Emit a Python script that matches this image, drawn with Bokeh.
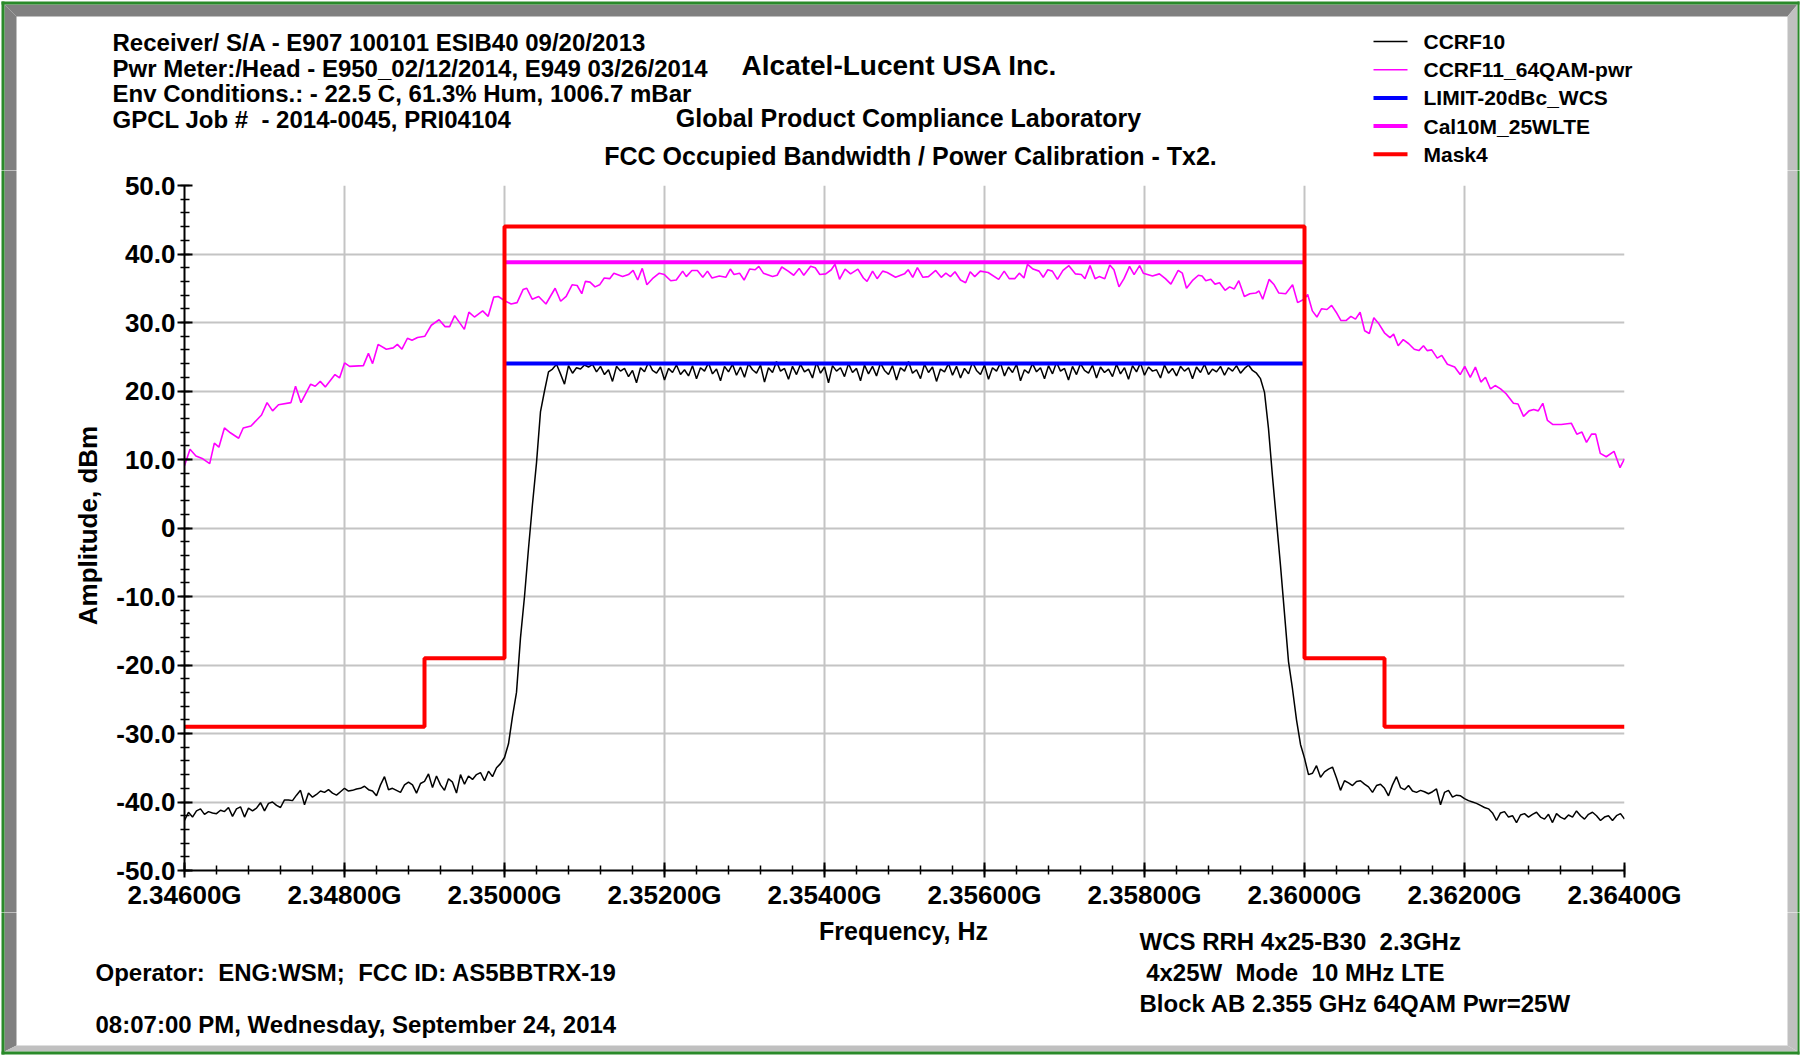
import numpy as np
from bokeh.plotting import figure
from bokeh.models import FixedTicker, Range1d
from bokeh.layouts import column, row
from bokeh.core.properties import value
from bokeh.embed import file_html
from bokeh.resources import INLINE

# ---------------- data (frequencies in MHz, amplitudes in dBm) ----------------
x_major_ticks = [2346, 2348, 2350, 2352, 2354, 2356, 2358, 2360, 2362, 2364]
x_tick_labels = ["2.34600G", "2.34800G", "2.35000G", "2.35200G", "2.35400G",
                 "2.35600G", "2.35800G", "2.36000G", "2.36200G", "2.36400G"]
y_major_ticks = [-50, -40, -30, -20, -10, 0, 10, 20, 30, 40, 50]
y_tick_labels = ["-50.0", "-40.0", "-30.0", "-20.0", "-10.0", "0",
                 "10.0", "20.0", "30.0", "40.0", "50.0"]

# CCRF10 trace: sweep from 2346.00 MHz in 0.05 MHz steps
ccrf10_start_mhz = 2346.0
ccrf10_step_mhz = 0.05
ccrf10_dbm = [
    -42.7, -41.5, -42.2, -41.3, -41.0, -41.8, -41.4, -41.6, -41.7, -41.2,
    -41.4, -40.8, -42.1, -41.0, -40.7, -42.2, -40.9, -41.3, -40.9, -40.1,
    -41.3, -40.2, -40.0, -40.5, -40.8, -39.7, -39.7, -39.8, -39.0, -38.3,
    -40.4, -38.7, -39.3, -38.9, -38.4, -38.6, -38.2, -38.7, -39.0, -38.5,
    -38.0, -38.4, -38.3, -38.1, -38.0, -37.7, -38.2, -38.4, -39.1, -37.5,
    -36.3, -38.2, -38.0, -38.3, -38.6, -37.5, -37.1, -37.5, -38.7, -37.3,
    -37.0, -35.9, -37.9, -36.2, -37.5, -38.3, -36.6, -37.1, -38.7, -36.0,
    -37.4, -36.2, -36.7, -36.0, -35.7, -36.9, -35.5, -36.3, -35.0, -34.4,
    -33.5, -31.5, -27.5, -24.0, -16.0, -10.0, -3.0, 3.5, 9.5, 17.0,
    20.0, 22.8, 23.2,
    23.9, 22.5, 21.0, 23.7, 22.6, 23.4, 23.2, 23.8, 23.5, 23.9, 22.8, 23.6, 22.4, 23.1, 21.4, 23.6, 22.9, 23.3, 22.1, 23.0,
    21.2, 23.4, 22.8, 24.2, 23.0, 22.6, 23.5, 21.6, 23.3, 22.7, 23.8, 22.4, 23.1, 22.2, 23.7, 21.8, 23.4, 22.9, 24.1, 22.5,
    23.2, 21.5, 23.6, 22.8, 23.9, 22.3, 23.5, 22.0, 24.0, 23.1, 22.6, 23.8, 21.3, 23.4, 22.7, 24.3, 22.9, 23.3, 21.7, 23.6,
    22.4, 23.9, 22.8, 23.2, 21.9, 24.2, 22.6, 23.5, 21.2, 23.7, 22.9, 23.4, 22.1, 24.0, 22.7, 23.3, 21.5, 23.8, 22.5, 23.6,
    22.2, 24.1, 23.0, 22.4, 23.7, 21.6, 23.4, 22.9, 24.3, 22.6, 23.1, 21.8, 23.9, 22.7, 23.5, 21.4, 23.2, 22.8, 24.0, 22.3,
    23.6, 21.9, 23.3, 22.5, 24.2, 23.0, 22.4, 23.8, 21.7, 23.4, 22.9, 24.1, 22.2, 23.5, 22.7, 23.9, 21.5, 23.1, 22.6, 24.0,
    22.8, 23.4, 21.8, 23.7, 22.5, 24.2, 22.9, 23.3, 21.6, 23.6, 22.4, 24.0, 23.0, 22.6, 23.8, 21.9, 23.5, 22.7, 23.2, 22.1,
    23.9, 22.5, 23.4, 21.7, 23.7, 22.8, 24.1, 22.3, 23.5, 22.9, 23.1, 21.9, 23.8, 22.6, 23.3, 22.2, 23.6, 22.9, 23.4, 21.8,
    23.5, 22.7, 23.9, 22.4, 23.2, 22.8, 23.6, 22.3, 23.4, 22.9, 23.7, 22.6, 23.3, 23.8,
    23.0, 22.6, 21.8, 19.8, 14.5, 7.5, 1.0, -5.5, -12.5, -19.5, -23.5, -28.0, -31.6, -33.6,
    -36.0, -35.8, -34.7, -36.4, -35.6, -35.2, -34.9, -36.5, -38.3, -36.9,
    -37.2, -37.6, -37.0, -36.9, -37.4, -37.8, -38.6, -37.6, -37.4, -38.0,
    -39.1, -37.5, -36.3, -37.9, -38.2, -37.6, -38.4, -38.6, -38.3, -38.5,
    -38.8, -38.5, -38.1, -40.4, -38.6, -38.3, -39.3, -39.0, -39.1, -39.5,
    -39.8, -40.0, -40.2, -40.5, -40.8, -41.0, -41.6, -42.7, -41.6, -41.4,
    -42.2, -42.0, -43.0, -41.9, -41.7, -42.2, -41.8, -41.5, -42.2, -42.5,
    -41.8, -43.0, -41.7, -42.2, -42.5, -41.9, -42.2, -41.3, -42.0, -42.5,
    -41.8, -41.5, -42.0, -42.7, -42.2, -42.0, -42.7, -42.0, -41.7, -42.5,
]

# CCRF11_64QAM-pwr trace (frequency offset from 2346 MHz, dBm)
ccrf11_offset_mhz = [
    0.000, 0.069, 0.143, 0.229, 0.315, 0.373, 0.430, 0.499, 0.573, 0.677,
    0.734, 0.831, 0.963, 1.032, 1.101, 1.175, 1.330, 1.388, 1.456, 1.577,
    1.634, 1.697, 1.760, 1.881, 1.938, 2.001, 2.064, 2.236, 2.299, 2.351,
    2.420, 2.523, 2.609, 2.661, 2.718, 2.787, 2.844, 2.913, 3.005, 3.085,
    3.182, 3.257, 3.314, 3.377, 3.498, 3.555, 3.624, 3.727, 3.796, 3.865,
    3.922, 4.014, 4.083, 4.157, 4.232, 4.278, 4.346, 4.427, 4.518, 4.633,
    4.702, 4.771, 4.845, 4.908, 4.966, 5.011, 5.069, 5.132, 5.189, 5.247,
    5.315, 5.367, 5.476, 5.550, 5.608, 5.665, 5.722, 5.780, 5.849, 5.935,
    5.998, 6.078, 6.147, 6.227, 6.273, 6.342, 6.411, 6.479, 6.537, 6.594,
    6.686, 6.766, 6.823, 6.869, 6.938, 6.995, 7.064, 7.133, 7.179, 7.236,
    7.351, 7.408, 7.466, 7.546, 7.615, 7.683, 7.741, 7.827, 7.884, 7.941,
    8.016, 8.085, 8.131, 8.188, 8.257, 8.326, 8.417, 8.486, 8.532, 8.601,
    8.658, 8.727, 8.784, 8.888, 9.000, 9.046, 9.103, 9.161, 9.230, 9.299,
    9.390, 9.459, 9.517, 9.574, 9.631, 9.700, 9.764, 9.821, 9.878, 9.947,
    10.045, 10.177, 10.246, 10.309, 10.378, 10.435, 10.493, 10.538, 10.607, 10.682,
    10.734, 10.791, 10.848, 10.912, 10.981, 11.055, 11.135, 11.210, 11.256, 11.319,
    11.382, 11.434, 11.503, 11.566, 11.618, 11.681, 11.744, 11.813, 11.870, 11.939,
    11.985, 12.100, 12.186, 12.261, 12.330, 12.421, 12.473, 12.525, 12.605, 12.674,
    12.720, 12.766, 12.829, 12.881, 12.938, 13.007, 13.064, 13.122, 13.179, 13.248,
    13.317, 13.392, 13.432, 13.478, 13.558, 13.621, 13.679, 13.765, 13.851, 13.914,
    13.994, 14.040, 14.098, 14.155, 14.212, 14.281, 14.339, 14.396, 14.454, 14.522,
    14.580, 14.637, 14.695, 14.752, 14.810, 14.867, 14.924, 14.999, 15.068, 15.114,
    15.171, 15.234, 15.303, 15.372, 15.430, 15.487, 15.533, 15.590, 15.659, 15.716,
    15.786, 15.877, 15.946, 16.003, 16.072, 16.136, 16.205, 16.262, 16.325, 16.383,
    16.451, 16.520, 16.612, 16.669, 16.738, 16.807, 16.865, 16.922, 16.979, 17.037,
    17.106, 17.209, 17.335, 17.404, 17.468, 17.525, 17.588, 17.640, 17.697, 17.772,
    17.869, 17.944, 18.000,
]
ccrf11_dbm = [
    9.1, 11.5, 10.5, 10.1, 9.4, 12.4, 11.8, 14.6, 13.9, 13.1,
    14.6, 14.9, 16.5, 18.3, 17.1, 18.0, 18.3, 20.7, 18.3, 21.0,
    20.7, 21.4, 20.6, 22.4, 21.9, 24.1, 23.6, 23.7, 25.5, 24.0,
    26.8, 26.1, 26.3, 26.8, 26.1, 27.7, 27.4, 27.8, 28.0, 29.6,
    30.4, 29.4, 29.4, 31.0, 29.0, 31.5, 30.8, 31.7, 30.9, 33.7,
    33.8, 33.1, 32.7, 32.9, 34.8, 35.0, 33.4, 33.8, 32.7, 35.0,
    33.1, 33.8, 35.5, 35.4, 34.2, 36.0, 35.9, 35.2, 35.5, 36.5,
    36.4, 37.2, 36.7, 37.0, 37.6, 36.2, 37.9, 35.5, 36.4, 37.2,
    37.0, 36.1, 36.2, 37.5, 36.7, 37.6, 37.6, 36.6, 37.5, 36.5,
    36.8, 36.6, 37.8, 37.0, 37.2, 36.2, 37.8, 37.7, 38.2, 37.2,
    36.7, 36.9, 38.1, 37.5, 36.9, 37.9, 36.9, 38.2, 38.0, 37.0,
    37.1, 37.7, 38.5, 36.3, 37.8, 37.1, 37.8, 36.5, 36.0, 37.5,
    36.4, 37.5, 37.3, 36.6, 37.1, 37.7, 36.6, 38.0, 36.6, 36.7,
    37.6, 36.6, 37.2, 36.7, 37.4, 36.2, 35.8, 37.4, 36.7, 37.5,
    37.3, 36.3, 37.5, 36.4, 36.4, 37.2, 36.5, 38.5, 37.8, 37.5,
    36.6, 37.7, 37.5, 36.3, 37.6, 38.3, 37.1, 37.0, 36.4, 38.3,
    36.4, 36.7, 36.4, 38.4, 37.7, 35.2, 36.4, 38.2, 37.0, 38.3,
    37.2, 36.8, 37.1, 36.4, 35.6, 37.6, 37.2, 35.0, 36.2, 36.9,
    36.8, 36.1, 36.3, 35.6, 35.8, 34.7, 35.2, 34.9, 36.1, 33.8,
    34.2, 34.3, 34.6, 33.4, 36.3, 35.5, 34.3, 34.2, 35.5, 32.9,
    33.4, 34.1, 31.7, 30.8, 32.0, 31.9, 32.5, 31.5, 30.3, 30.3,
    30.9, 30.5, 31.5, 28.8, 28.4, 30.7, 29.9, 28.5, 27.8, 28.3,
    26.6, 27.5, 26.9, 26.1, 25.9, 26.6, 25.9, 26.0, 24.8, 25.2,
    23.9, 23.5, 22.4, 23.6, 22.0, 23.5, 21.3, 22.0, 20.3, 20.8,
    20.3, 19.6, 18.2, 18.1, 16.3, 17.1, 17.3, 17.1, 18.2, 15.7,
    15.1, 15.1, 15.3, 13.7, 14.0, 12.5, 13.7, 13.7, 10.9, 10.4,
    11.2, 8.8, 10.1,
]

limit_freq = [2350, 2360]
limit_dbm = [24.0, 24.0]
cal_freq = [2350, 2360]
cal_dbm = [38.8, 38.8]
mask_freq = [2346, 2349, 2349, 2350, 2350, 2360, 2360, 2361, 2361, 2364]
mask_dbm = [-29, -29, -19, -19, 44, 44, -19, -19, -29, -29]

series_names = ["CCRF10", "CCRF11_64QAM-pwr", "LIMIT-20dBc_WCS", "Cal10M_25WLTE", "Mask4"]
series_colors = ["black", "#ff00ff", "#0000ff", "#ff00ff", "#ff0000"]
series_widths = [1.5, 1.6, 4, 4, 4]

NB = "\u00a0"  # keeps the doubled spaces of the original texts visible
header_lines = ["Receiver/ S/A - E907 100101 ESIB40 09/20/2013",
                "Pwr Meter:/Head - E950_02/12/2014, E949 03/26/2014",
                "Env Conditions.: - 22.5 C, 61.3% Hum, 1006.7 mBar",
                f"GPCL Job #{NB} - 2014-0045, PRI04104"]
company = "Alcatel-Lucent USA Inc."
lab_name = "Global Product Compliance Laboratory"
chart_title = "FCC Occupied Bandwidth / Power Calibration - Tx2."
y_title = "Amplitude, dBm"
x_title = "Frequency, Hz"
operator_text = f"Operator:{NB} ENG:WSM;{NB} FCC ID: AS5BBTRX-19"
date_text = "08:07:00 PM, Wednesday, September 24, 2014"
info_lines = [f"WCS RRH 4x25-B30{NB} 2.3GHz", f"{NB}4x25W{NB} Mode{NB} 10 MHz LTE",
              "Block AB 2.355 GHz 64QAM Pwr=25W"]

# ---------------- page geometry (pixels, origin top-left) ----------------
W, H = 1800, 1055
FL, FR, FT, FB = 184, 1624, 185, 870      # plot frame
TOP_H = 170                                # header strip
MAIN_B = 912                               # bottom of the chart strip
LEFT_W = 110                               # left strip
RIGHT_X = 1780                             # right strip starts here
FONT = "Liberation Sans"

# bevelled page frame
G0, G1, G2 = 1, 4, 16            # green line / dark band outer / inner (left & top)
RX1, RX2 = W - 3, W - 13         # right band outer / inner
BY1, BY2 = H - 4, H - 10         # bottom band outer / inner
GREEN, DARK, LIGHT = "#2a8a2a", "#808080", "#c0c0c0"


def draw_frame(f):
    f.patch([G1, RX1, RX2, G2], [G1, G1, G2, G2], color=DARK, line_color=None)
    f.patch([G1, G2, G2, G1], [G1, G2, BY2, BY1], color=DARK, line_color=None)
    f.patch([RX1, RX1, RX2, RX2], [G1, BY1, BY2, G2], color=LIGHT, line_color=None)
    f.patch([G1, RX1, RX2, G2], [BY1, BY1, BY2, BY2], color=LIGHT, line_color=None)
    f.quad(left=[G0, G0, G0, RX1], right=[W - 1, W - 1, G1, W - 1],
           top=[G0, BY1, G0, G0], bottom=[G1, H - 1, H - 1, H - 1],
           color=GREEN, line_color=None)


def aux(x0, x1, y0, y1):
    f = figure(width=x1 - x0, height=y1 - y0, x_range=Range1d(x0, x1),
               y_range=Range1d(y1, y0), x_axis_type=None, y_axis_type=None,
               output_backend="svg", toolbar_location=None, title=None,
               min_border_left=0, min_border_right=0, min_border_top=0, min_border_bottom=0)
    f.frame_align = False
    f.outline_line_color = None
    f.background_fill_color = "white"
    f.border_fill_color = "white"
    draw_frame(f)
    return f


def put(f, text, x, y, size, align="left", angle=0.0):
    f.text(x=[x], y=[y], text=[text], text_font=value(FONT), text_font_style="bold",
           text_font_size=value(f"{size}px"), text_align=align,
           text_baseline="middle", angle=angle, text_color="black")


# ---- top strip: header, titles, legend
top = aux(0, W, 0, TOP_H)
for i, t in enumerate(header_lines):
    put(top, t, 112, 42 + i * 25.7, 24)
put(top, company, 899, 65, 28, align="center")
put(top, lab_name, 908, 117, 25, align="center")
put(top, chart_title, 910, 155, 25, align="center")
for i, (name, col, lw) in enumerate(zip(series_names, series_colors, series_widths)):
    yc = 41 + i * 28.2
    top.segment(x0=[1373], y0=[yc], x1=[1407], y1=[yc], line_color=col, line_width=lw)
    put(top, name, 1423, yc, 21)

# ---- left / right strips
left = aux(0, LEFT_W, TOP_H, MAIN_B)
put(left, y_title, 87, 525, 26, align="center", angle=np.pi / 2)
right = aux(RIGHT_X, W, TOP_H, MAIN_B)

# ---- bottom strip
bottom = aux(0, W, MAIN_B, H)
put(bottom, x_title, 903, 930, 25, align="center")
put(bottom, operator_text, 95, 972, 24)
put(bottom, date_text, 95, 1024, 24)
for i, t in enumerate(info_lines):
    put(bottom, t, 1139, 941 + i * 31, 24)

# ---- main chart
p = figure(width=RIGHT_X - LEFT_W, height=MAIN_B - TOP_H, output_backend="svg",
           toolbar_location=None, title=None,
           x_range=Range1d(2346, 2364), y_range=Range1d(-50, 50),
           min_border_left=FL - LEFT_W, min_border_right=RIGHT_X - FR,
           min_border_top=FT - TOP_H, min_border_bottom=MAIN_B - FB)
p.frame_align = False
p.outline_line_color = None
p.background_fill_color = "white"
p.border_fill_color = "white"

x_minor = [2346 + 0.4 * i for i in range(46)]
y_minor = [-50 + 2 * i for i in range(51)]
p.xaxis.ticker = FixedTicker(ticks=x_major_ticks, minor_ticks=x_minor)
p.yaxis.ticker = FixedTicker(ticks=y_major_ticks, minor_ticks=y_minor)
p.xaxis.major_label_overrides = dict(zip(x_major_ticks, x_tick_labels))
p.yaxis.major_label_overrides = dict(zip(y_major_ticks, y_tick_labels))
for ax in (p.xaxis[0], p.yaxis[0]):
    ax.axis_line_color = "black"
    ax.axis_line_width = 2
    ax.major_tick_line_color = "black"
    ax.major_tick_line_width = 2
    ax.minor_tick_line_color = "black"
    ax.minor_tick_line_width = 1.5
    ax.major_tick_in = 8
    ax.major_tick_out = 7
    ax.minor_tick_in = 5
    ax.minor_tick_out = 4
    ax.major_label_text_font = FONT
    ax.major_label_text_font_style = "bold"
    ax.major_label_text_font_size = "26px"
    ax.major_label_text_color = "black"
    ax.major_label_standoff = 2
p.xgrid.grid_line_color = "#c4c4c4"
p.ygrid.grid_line_color = "#c4c4c4"
p.xgrid.grid_line_width = 2
p.ygrid.grid_line_width = 2

ccrf10_freq = [ccrf10_start_mhz + ccrf10_step_mhz * i for i in range(len(ccrf10_dbm))]
ccrf11_freq = [2346.0 + o for o in ccrf11_offset_mhz]

p.line(ccrf10_freq, ccrf10_dbm, line_color=series_colors[0], line_width=series_widths[0])
p.line(ccrf11_freq, ccrf11_dbm, line_color=series_colors[1], line_width=series_widths[1])
p.line(limit_freq, limit_dbm, line_color=series_colors[2], line_width=series_widths[2])
p.line(cal_freq, cal_dbm, line_color=series_colors[3], line_width=series_widths[3])
p.line(mask_freq, mask_dbm, line_color=series_colors[4], line_width=series_widths[4])

page = column(top, row(left, p, right, spacing=0), bottom, spacing=0)
open("out.html", "w").write(file_html(page, INLINE))
